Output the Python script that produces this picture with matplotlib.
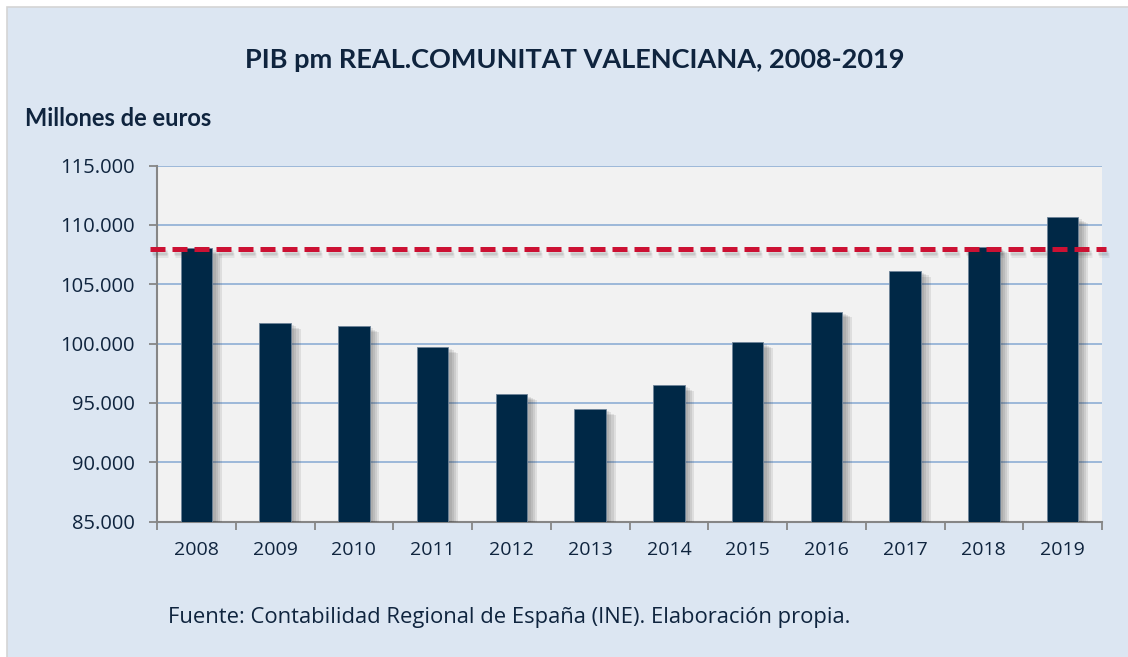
import numpy as np
import matplotlib
matplotlib.use('Agg')
import matplotlib.pyplot as plt
import matplotlib.patheffects as pe
from matplotlib.patches import Rectangle

# datos (millones de euros)
years = ['2008', '2009', '2010', '2011', '2012', '2013',
         '2014', '2015', '2016', '2017', '2018', '2019']
pib = [108020, 101730, 101450, 99710, 95720, 94490,
       96510, 100100, 102690, 106140, 108110, 110640]
ref_2008 = 107950
yticks = [85000, 90000, 95000, 100000, 105000, 110000, 115000]

title = 'PIB pm REAL.COMUNITAT VALENCIANA, 2008-2019'
ylab = 'Millones de euros'
fuente = 'Fuente: Contabilidad Regional de España (INE). Elaboración propia.'

navy = '#002846'
txt = '#0F243E'

fig = plt.figure(figsize=(11.28, 6.57), dpi=100)
fig.patch.set_facecolor('white')
# recuadro azul claro de fondo
fig.patches.append(Rectangle((7/1128, -0.1), 1.1, 1.1 - 7/657, transform=fig.transFigure,
                             facecolor='#DCE6F2', edgecolor='#D4D4D4', lw=1.2, zorder=-10))

ax = fig.add_axes([157/1128, 1 - 521.7/657, (1102 - 157)/1128, (521.7 - 165.5)/657])
ax.set_facecolor('#F2F2F2')

# sombra difusa: varias capas
bar_shadow = [pe.SimplePatchShadow(offset=(o, -o * 0.6), alpha=0.1, shadow_rgbFace='#333333')
              for o in (7, 5.5, 4, 2.5)]
line_shadow = [pe.SimpleLineShadow(offset=(o * 0.5, -o), alpha=0.08, shadow_color='#333333')
               for o in (4, 3, 2)]

x = np.arange(len(years))
bars = ax.bar(x, pib, width=0.4, color=navy, edgecolor='#6F8499', lw=0.6, zorder=3)
for b in bars:
    b.set_path_effects(bar_shadow + [pe.Normal()])

ax.axhline(ref_2008, xmin=-0.007, xmax=1.004, color='#CC1133', lw=3.6,
           dashes=(3, 1.4), dash_capstyle='butt', clip_on=False, zorder=4,
           path_effects=line_shadow + [pe.Normal()])

ax.set_ylim(85000, 115000)
ax.set_xlim(-0.5, len(years) - 0.5)
ax.set_yticks(yticks)
ax.set_yticklabels([f'{v:,}'.replace(',', '.') for v in yticks])
ax.yaxis.grid(True, color='#95B3D7', lw=1.3, zorder=1)
ax.set_axisbelow(True)

ax.set_xticks(x)
ax.set_xticklabels(years)
ax.set_xticks(np.arange(-0.5, len(years)), minor=True)
ax.tick_params(axis='x', which='major', length=0, pad=14, labelsize=14, labelcolor=txt)
ax.tick_params(axis='x', which='minor', length=6, width=1.3, color='#868686')
ax.tick_params(axis='y', length=6, width=1.3, color='#868686', pad=10,
               labelsize=14.5, labelcolor=txt)
for lab in ax.get_xticklabels() + ax.get_yticklabels():
    lab.set_family('Open Sans')

for s in ['top', 'right']:
    ax.spines[s].set_visible(False)
for s in ['left', 'bottom']:
    ax.spines[s].set_color('#868686')
    ax.spines[s].set_linewidth(1.5)

fig.text(575/1128, 1 - 60/657, title, ha='center', va='center', fontsize=19.5,
         fontweight='bold', family='Lato', color=txt)
fig.text(25/1128, 1 - 118/657, ylab, ha='left', va='center', fontsize=17,
         fontweight='bold', family='Lato', color=txt)
fig.text(168/1128, 1 - 618/657, fuente, ha='left', va='center', fontsize=15.8,
         family='Open Sans', color=txt)

fig.savefig('out.png', dpi=100)
